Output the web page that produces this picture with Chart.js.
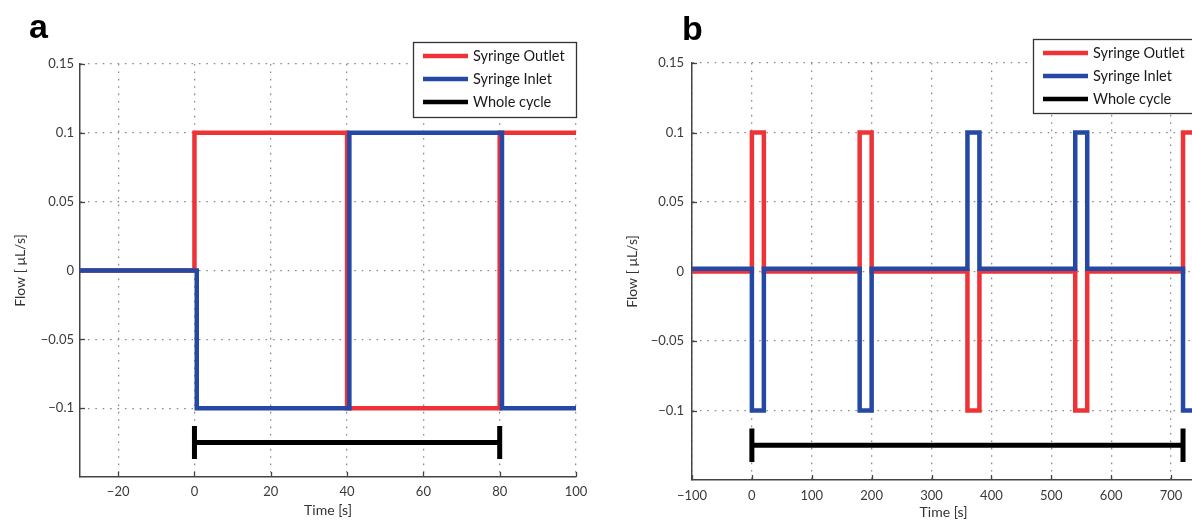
<!DOCTYPE html>
<html><head><meta charset="utf-8">
<script src="https://cdn.jsdelivr.net/npm/chart.js@4.4.1/dist/chart.umd.min.js"></script>
<style>
html,body{margin:0;padding:0;background:#fff;overflow:hidden;width:1192px;height:521px;}
#wrap{position:relative;width:1192px;height:521px;overflow:hidden;}
canvas{position:absolute;top:0;}
.lbl{position:absolute;font-family:"Liberation Sans",Arial,sans-serif;font-weight:bold;font-size:34px;line-height:34px;color:#000;}
</style></head><body>
<div id="wrap">
<canvas id="ca" width="600" height="521" style="left:0"></canvas>
<canvas id="cb" width="610" height="521" style="left:600px"></canvas>
<div class="lbl" style="left:29px;top:9px">a</div>
<div class="lbl" style="left:682px;top:11px">b</div>
</div>
<script>
// ---------- data ----------
const seriesNames = ['Syringe Outlet', 'Syringe Inlet', 'Whole cycle'];
const seriesColors = ['#ee3338', '#2448a4', '#000000'];
const yTicks = [-0.1, -0.05, 0, 0.05, 0.1, 0.15];

// panel a
const aXTicks = [-20, 0, 20, 40, 60, 80, 100];
const aOutletTime  = [-30, 0, 0, 40, 40, 80, 80, 100];
const aOutletFlow  = [0, 0, 0.1, 0.1, -0.1, -0.1, 0.1, 0.1];
const aInletTime   = [-30, 0.6, 0.6, 40.6, 40.6, 80.6, 80.6, 100];
const aInletFlow   = [0, 0, -0.1, -0.1, 0.1, 0.1, -0.1, -0.1];
const aCycleTime   = [0, 0, 0, 80, 80, 80];
const aCycleLevel  = [-0.113, -0.137, -0.125, -0.125, -0.113, -0.137];

// panel b
const bXTicks = [-100, 0, 100, 200, 300, 400, 500, 600, 700];
const bTime       = [-100, 0, 0, 20, 20, 180, 180, 200, 200, 360, 360, 380, 380, 540, 540, 560, 560, 720, 720, 740];
const bOutletFlow = [0, 0, 0.1, 0.1, 0, 0, 0.1, 0.1, 0, 0, -0.1, -0.1, 0, 0, -0.1, -0.1, 0, 0, 0.1, 0.1];
const bInletFlow  = [0.002, 0.002, -0.1, -0.1, 0.002, 0.002, -0.1, -0.1, 0.002, 0.002, 0.1, 0.1, 0.002, 0.002, 0.1, 0.1, 0.002, 0.002, -0.1, -0.1];
const bCycleTime  = [0, 0, 0, 720, 720, 720];
const bCycleLevel = [-0.113, -0.137, -0.125, -0.125, -0.113, -0.137];

// ---------- helpers ----------
const pts = (xs, ys) => xs.map((x, i) => ({x, y: ys[i]}));
const fmt = v => (v < 0 ? '\u2212' + String(Math.abs(+v.toFixed(3))) : String(+v.toFixed(3)));

const innerTicks = {
  id: 'innerTicks',
  beforeDatasetsDraw(chart) {
    const {ctx, chartArea: ca, scales: {x, y}} = chart;
    ctx.save();
    ctx.strokeStyle = '#444';
    ctx.lineWidth = 1.3;
    x.ticks.forEach(t => {
      const p = Math.round(x.getPixelForValue(t.value)) + 0.5;
      ctx.beginPath(); ctx.moveTo(p, ca.bottom); ctx.lineTo(p, ca.bottom - 5); ctx.stroke();
    });
    y.ticks.forEach(t => {
      const p = Math.round(y.getPixelForValue(t.value)) + 0.5;
      ctx.beginPath(); ctx.moveTo(ca.left, p); ctx.lineTo(ca.left + 5, p); ctx.stroke();
    });
    ctx.restore();
  }
};

const boxLegend = {
  id: 'boxLegend',
  afterDraw(chart, args, opts) {
    const {ctx} = chart;
    const {x, y, w, h} = opts;
    ctx.save();
    ctx.fillStyle = '#fff';
    ctx.fillRect(x, y, w, h);
    ctx.strokeStyle = '#333';
    ctx.lineWidth = 1.3;
    ctx.strokeRect(x + 0.5, y + 0.5, w, h);
    ctx.font = '14.5px Lato, "Open Sans", sans-serif';
    ctx.textBaseline = 'middle';
    ctx.fillStyle = '#1a1a1a';
    chart.data.datasets.forEach((ds, i) => {
      const ry = y + 14 + i * 23;
      ctx.strokeStyle = ds.borderColor;
      ctx.lineWidth = 4.5;
      ctx.beginPath(); ctx.moveTo(x + 10, ry); ctx.lineTo(x + 55, ry); ctx.stroke();
      ctx.fillText(ds.label, x + 60, ry);
    });
    ctx.restore();
  }
};

function makeChart(id, cfg) {
  const datasets = cfg.series.map((s, i) => ({
    label: seriesNames[i],
    data: s,
    borderColor: seriesColors[i],
    backgroundColor: seriesColors[i],
    borderWidth: i === 2 ? 5 : 4.5,
    showLine: true,
    pointRadius: 0,
    tension: 0,
    fill: false,
    borderJoinStyle: 'miter',
    borderCapStyle: 'butt',
    order: i === 0 ? 2 : (i === 1 ? 1 : 0)
  }));
  return new Chart(document.getElementById(id), {
    type: 'scatter',
    data: {datasets},
    options: {
      responsive: false,
      animation: false,
      events: [],
      layout: {padding: cfg.padding},
      plugins: {legend: {display: false}, tooltip: {enabled: false}, boxLegend: cfg.legend},
      scales: {
        x: {
          type: 'linear', min: cfg.xMin, max: cfg.xMax,
          afterBuildTicks: s => { s.ticks = cfg.xTicks.map(v => ({value: v})); },
          afterFit: s => { s.height = cfg.xAxisH; },
          ticks: {callback: v => fmt(v), font: {family: 'Lato', size: 13}, color: '#3a3a3a', padding: cfg.xTickPad, maxRotation: 0, autoSkip: false},
          grid: {color: '#8c8c8c', lineWidth: 1.3, drawTicks: false},
          border: {display: true, color: '#444', width: 1.5, dash: [1.6, 5.8]},
          title: {display: true, text: 'Time [s]', font: {family: 'Lato', size: 14}, color: '#333', padding: {top: 0, bottom: cfg.xTitlePad}}
        },
        y: {
          type: 'linear', min: -0.15, max: 0.15,
          afterBuildTicks: s => { s.ticks = yTicks.map(v => ({value: v})); },
          afterFit: s => { s.width = cfg.yAxisW; },
          ticks: {callback: v => fmt(v), font: {family: 'Lato', size: 13}, color: '#3a3a3a', padding: cfg.yTickPad, autoSkip: false},
          grid: {color: '#8c8c8c', lineWidth: 1.3, drawTicks: false},
          border: {display: true, color: '#444', width: 1.5, dash: [1.6, 5.8]},
          title: {display: true, text: 'Flow [ \u03bcL/s]', font: {family: 'Lato', size: 14}, color: '#333', padding: {top: cfg.yTitlePad, bottom: 0}}
        }
      }
    },
    plugins: [innerTicks, boxLegend]
  });
}

makeChart('ca', {
  series: [pts(aOutletTime, aOutletFlow), pts(aInletTime, aInletFlow), pts(aCycleTime, aCycleLevel)],
  xMin: -30, xMax: 100, xTicks: aXTicks,
  padding: {left: 0, top: 64, right: 24, bottom: 0},
  xAxisH: 44, yAxisW: 80, xTickPad: 7, yTickPad: 6, xTitlePad: 2, yTitlePad: 12,
  legend: {x: 413, y: 42, w: 163, h: 75}
});

makeChart('cb', {
  series: [pts(bTime, bOutletFlow), pts(bTime, bInletFlow), pts(bCycleTime, bCycleLevel)],
  xMin: -100, xMax: 740, xTicks: bXTicks,
  padding: {left: 0, top: 63, right: 15, bottom: 0},
  xAxisH: 41, yAxisW: 92, xTickPad: 8, yTickPad: 8, xTitlePad: 0, yTitlePad: 24,
  legend: {x: 433, y: 39, w: 163, h: 74}
});
</script>
</body></html>
